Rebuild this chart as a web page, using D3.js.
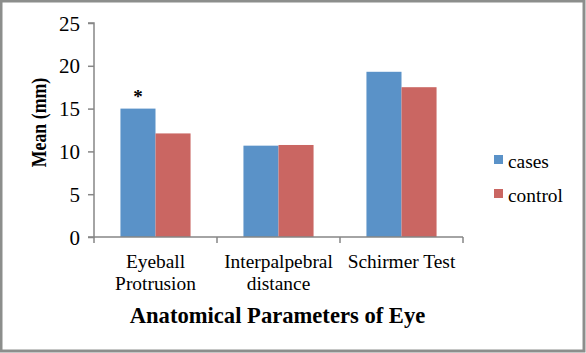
<!DOCTYPE html>
<html><head><meta charset="utf-8">
<script src="https://cdn.jsdelivr.net/npm/d3@7"></script>
<style>body{margin:0;background:#fff}svg{display:block}</style>
</head><body>
<script>
const categories = [["Eyeball","Protrusion"],["Interpalpebral","distance"],["Schirmer Test"]];
const seriesNames = ["cases","control"];
const cases = [15.0, 10.67, 19.3];
const control = [12.1, 10.75, 17.5];
const yTicks = [0,5,10,15,20,25];
const colors = ["#5a92c8","#ca6662"];
const FF = "Liberation Serif";

const W=586,H=353;
const svg=d3.select("body").append("svg").attr("width",W).attr("height",H);
svg.append("rect").attr("x",1).attr("y",1).attr("width",W-3).attr("height",H-3).attr("fill","#fff").attr("stroke","#8c8e8c").attr("stroke-width",3);

const x0=94,x1=463,y0=237,y1=23;
const x=d3.scaleBand().domain(d3.range(categories.length)).range([x0,x1]);
const y=d3.scaleLinear().domain([0,25]).range([y0,y1]);
const groupW = x.bandwidth()*0.57;
const xsub=d3.scaleBand().domain(seriesNames).range([(x.bandwidth()-groupW)/2,(x.bandwidth()+groupW)/2]);

const data=[cases,control];
seriesNames.forEach((s,si)=>{
  svg.append("g").selectAll("rect").data(data[si]).join("rect")
    .attr("x",(d,i)=>x(i)+xsub(s)).attr("width",xsub.bandwidth())
    .attr("y",d=>y(d)).attr("height",d=>y0-y(d)).attr("fill",colors[si]);
});

// y axis
const ya=svg.append("g").attr("transform",`translate(${x0},0)`).call(d3.axisLeft(y).tickValues(yTicks).tickSize(6).tickPadding(8));
ya.attr("font-family",FF).attr("font-size",21);
ya.select(".domain").attr("stroke","#868686").attr("stroke-width",1.5).attr("d",`M-6,${y1}H0V${y0}H-6`);
ya.selectAll(".tick line").attr("stroke","#868686").attr("stroke-width",1.5);
ya.selectAll(".tick text").attr("font-size",21).attr("font-family",FF).attr("fill","#000").attr("dy","0.34em");

// x axis
const xa=svg.append("g");
xa.append("line").attr("x1",x0).attr("x2",x1).attr("y1",y0).attr("y2",y0).attr("stroke","#868686").attr("stroke-width",1.5);
xa.selectAll("line.t").data(d3.range(categories.length+1)).join("line").attr("class","t")
  .attr("x1",i=>x0+i*x.bandwidth()).attr("x2",i=>x0+i*x.bandwidth()).attr("y1",y0).attr("y2",y0+6).attr("stroke","#868686").attr("stroke-width",1.5);
categories.forEach((lines,i)=>{
  lines.forEach((t,j)=>{
    svg.append("text").attr("x",x(i)+x.bandwidth()/2).attr("y",268+j*22).attr("text-anchor","middle")
      .attr("font-family",FF).attr("font-size",19.4).text(t);
  });
});

// asterisk
svg.append("text").attr("x",x(0)+xsub("cases")+xsub.bandwidth()/2).attr("y",y(cases[0])-6).attr("text-anchor","middle")
  .attr("font-family",FF).attr("font-size",19).attr("font-weight","bold").text("*");

// axis titles
svg.append("text").attr("transform",`translate(46,122.5) rotate(-90) scale(0.85,1)`).attr("text-anchor","middle")
  .attr("font-family",FF).attr("font-size",21).attr("font-weight","bold").text("Mean (mm)");
svg.append("text").attr("x",277.5).attr("y",323).attr("text-anchor","middle")
  .attr("font-family",FF).attr("font-size",22.6).attr("font-weight","bold").text("Anatomical Parameters of Eye");

// legend
seriesNames.forEach((s,i)=>{
  const ly=155+i*34;
  svg.append("rect").attr("x",494).attr("y",ly).attr("width",9).attr("height",9).attr("fill",colors[i]);
  svg.append("text").attr("x",508).attr("y",ly+13).attr("font-family",FF).attr("font-size",19.4).text(s);
});
</script>
</body></html>
